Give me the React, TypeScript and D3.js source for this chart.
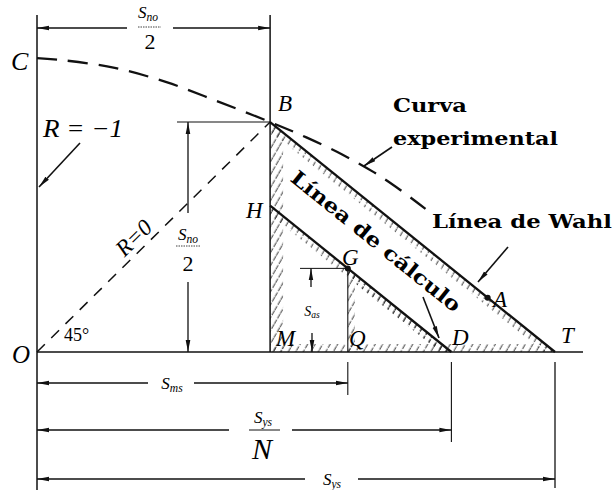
import React from "react";
import * as d3 from "d3";

const W = 614;
const H = 490;

// abscissa values (S_ys = 100) and ordinate of B (S_no/2)
const snoHalf = 45; // B, M
const sms = 60; // Q (G above it)
const sysOverN = 80; // D
const sys = 100; // T
const aOnWahl = 87; // A on the Wahl line

const curveX = [0, 5, 15, 25, 35, 45, 52, 59, 65, 70, 75];
const curveY = [57.5, 57.1, 55.6, 52.8, 49, 45, 42, 38.6, 35.2, 31.8, 28];

const serif = "'Liberation Serif', 'DejaVu Serif', serif";
const bold = "'DejaVu Serif', serif";

const x = d3.scaleLinear().domain([0, 100]).range([37, 555]);
const y = d3.scaleLinear().domain([0, 100]).range([352, 352 - 511]);

// line through B and T, and the parallel one through D
const wahlY = (v: number) => (snoHalf * (sys - v)) / (sys - snoHalf);
const calcY = (v: number) => (snoHalf * (sysOverN - v)) / (sys - snoHalf);

const S = ({ cx, cy, sub, size = 17 }: { cx: number; cy: number; sub: string; size?: number }) => (
  <text x={cx} y={cy} textAnchor="middle" fontFamily={serif} fontStyle="italic" fontSize={size}>
    S<tspan fontSize={size * 0.68} dy={size * 0.15}>{sub}</tspan>
  </text>
);

const Letter = ({ px, py, t, size = 23 }: { px: number; py: number; t: string; size?: number }) => (
  <text x={px} y={py} fontFamily={serif} fontStyle="italic" fontSize={size}>
    {t}
  </text>
);

type P = [number, number];

export default function App() {
  const line = d3.line<P>().x((d) => x(d[0])).y((d) => y(d[1]));
  const curvePts = curveX.map((v, i) => [v, curveY[i]] as P);
  const curvePath = d3
    .line<P>()
    .x((d) => x(d[0]))
    .y((d) => y(d[1]))
    .curve(d3.curveCatmullRom)(curvePts);

  const B: P = [snoHalf, snoHalf];
  const M: P = [snoHalf, 0];
  const T: P = [sys, 0];
  const D: P = [sysOverN, 0];
  const Hp: P = [snoHalf, calcY(snoHalf)];
  const G: P = [sms, calcY(sms)];
  const Q: P = [sms, 0];
  const A: P = [aOnWahl, wahlY(aOnWahl)];

  const tri1 = line([B, M, T, B])!;
  const tri2 = line([Hp, M, D, Hp])!;
  const tri3 = line([G, Q, D, G])!;

  const ang = (Math.atan2(y(0) - y(snoHalf), x(sys) - x(snoHalf)) * 180) / Math.PI;
  const ang45 = (Math.atan2(y(snoHalf) - y(0), x(snoHalf) - x(0)) * 180) / Math.PI;

  const x0 = x(0);
  const y0 = y(0);
  const xB = x(snoHalf);
  const yB = y(snoHalf);

  const seg = (x1: number, y1: number, x2: number, y2: number, arrow = true, w = 1.3) => (
    <line
      x1={x1}
      y1={y1}
      x2={x2}
      y2={y2}
      stroke="#111"
      strokeWidth={w}
      markerEnd={arrow ? "url(#arr)" : undefined}
    />
  );

  // horizontal dimension line with a gap for its label
  const dimH = (xa: number, xb: number, yy: number, g1: number, g2: number) => (
    <g>
      {seg(g1, yy, xa, yy)}
      {seg(g2, yy, xb, yy)}
    </g>
  );

  // hatch band along one edge, kept inside a region
  const band = (a: P, b: P, w: number, clip: string) => (
    <path d={line([a, b])!} stroke="url(#hatch)" strokeWidth={w} fill="none" clipPath={`url(#${clip})`} />
  );

  return (
    <svg width={W} height={H} style={{ position: "absolute", left: 0, top: 0, background: "#fff" }}>
      <defs>
        <marker
          id="arr"
          viewBox="0 -3 12 6"
          refX={12}
          refY={0}
          markerWidth={12}
          markerHeight={6}
          markerUnits="userSpaceOnUse"
          orient="auto"
        >
          <path d="M0,-2.3L12,0L0,2.3Z" fill="#111" />
        </marker>
        <pattern id="hatch" width={6.5} height={12} patternUnits="userSpaceOnUse" patternTransform="rotate(30)">
          <line x1={3} y1={0} x2={3} y2={12} stroke="#222" strokeWidth={0.9} strokeDasharray="5 1.5" />
        </pattern>
        <clipPath id="c1">
          <path d={tri1} />
        </clipPath>
        <clipPath id="c2">
          <path d={tri2} />
        </clipPath>
        <clipPath id="c3">
          <path d={tri3} />
        </clipPath>
      </defs>

      {/* hatching along the inside edges */}
      {band(B, M, 26, "c1")}
      {band(B, T, 14, "c1")}
      {band(M, T, 16, "c1")}
      {band(Hp, D, 14, "c2")}
      {band(G, Q, 14, "c3")}
      {band(G, D, 14, "c3")}

      {/* axes and extension lines */}
      {seg(x0, 15, x0, 490, false, 1.5)}
      {seg(x0, y0, 583, y0, false, 1.6)}
      {seg(xB, 15, xB, y0, false, 1.5)}
      {seg(x(sms), y(G[1]), x(sms), y0, false, 1.1)}
      {seg(x(sms), 362, x(sms), 395, false, 1.1)}
      {seg(x(sysOverN), 362, x(sysOverN), 442, false, 1.1)}
      {seg(x(sys), 362, x(sys), 488, false, 1.3)}

      {/* Wahl line and design line */}
      <path d={line([B, T])!} stroke="#111" strokeWidth={2.3} fill="none" />
      <path d={line([Hp, D])!} stroke="#111" strokeWidth={2.3} fill="none" />

      {/* R = 0 line and experimental curve */}
      <path d={line([[0, 0], B])!} stroke="#111" strokeWidth={1.5} strokeDasharray="11 9" fill="none" />
      <path d={curvePath!} stroke="#111" strokeWidth={2.3} strokeDasharray="20 11" fill="none" />

      {/* top dimension S_no/2 */}
      {dimH(x0, xB, 28, 127, 173)}
      <S cx={148} cy={18} sub="no" />
      <line x1={138} x2={161} y1={27} y2={27} stroke="#111" strokeWidth={0.8} strokeDasharray="1.5 1" />
      <text x={150} y={49} textAnchor="middle" fontFamily={serif} fontSize={22}>
        2
      </text>

      {/* vertical dimension S_no/2 */}
      {seg(xB, yB, 177, yB, false, 1.1)}
      {seg(188, 213, 188, yB)}
      {seg(188, 282, 188, y0)}
      <S cx={188} cy={240} sub="no" />
      <line x1={176} x2={201} y1={246} y2={246} stroke="#111" strokeWidth={0.8} strokeDasharray="1.5 1" />
      <text x={188} y={271} textAnchor="middle" fontFamily={serif} fontSize={22}>
        2
      </text>

      {/* S_as dimension */}
      {seg(300, y(G[1]), x(sms), y(G[1]), false, 1)}
      {seg(311, 287, 311, y(G[1]))}
      {seg(312, 333, 312, y0)}
      <S cx={312} cy={316} sub="as" size={14} />

      {/* bottom dimensions */}
      {dimH(x0, x(sms), 383, 148, 194)}
      <S cx={172} cy={389} sub="ms" />
      {dimH(x0, x(sysOverN), 430, 229, 292)}
      <S cx={263} cy={423} sub="ys" />
      <line x1={249} x2={280} y1={430} y2={430} stroke="#111" strokeWidth={1} />
      <text x={262} y={459} textAnchor="middle" fontFamily={serif} fontStyle="italic" fontSize={30}>
        N
      </text>
      {dimH(x0, x(sys), 479, 305, 358)}
      <S cx={332} cy={485} sub="ys" />

      {/* points */}
      <circle cx={x(G[0])} cy={y(G[1])} r={3} fill="#111" />
      <circle cx={x(A[0])} cy={y(A[1])} r={3} fill="#111" />

      {/* leaders */}
      {seg(80, 143, 39, 187, true, 1.6)}
      {seg(392, 147, 364, 166, true, 1.6)}
      {seg(508, 247, 478, 282, true, 1.6)}
      {seg(423, 297, 439, 338, true, 1.6)}

      {/* point letters */}
      <Letter px={11} py={70} t="C" size={26} />
      <Letter px={278} py={111} t="B" />
      <Letter px={246} py={218} t="H" />
      <Letter px={342} py={265} t="G" />
      <Letter px={493} py={307} t="A" />
      <Letter px={276} py={346} t="M" />
      <Letter px={349} py={346} t="Q" />
      <Letter px={452} py={345} t="D" />
      <Letter px={561} py={343} t="T" />
      <Letter px={12} py={363} t="O" size={25} />
      <text x={64} y={341} fontFamily={serif} fontSize={18}>
        45°
      </text>

      <text x={43} y={137} fontFamily={serif} fontStyle="italic" fontSize={25} textLength={80} lengthAdjust="spacingAndGlyphs">
        R = −1
      </text>
      <text
        transform={`translate(${x(20.5) - 4},${y(20.5) - 4}) rotate(${ang45})`}
        textAnchor="middle"
        fontFamily={serif}
        fontStyle="italic"
        fontSize={23}
      >
        R=0
      </text>

      {/* bold labels */}
      <text x={393} y={112} fontFamily={bold} fontWeight="bold" fontSize={18} textLength={74} lengthAdjust="spacingAndGlyphs">
        Curva
      </text>
      <text x={393} y={145} fontFamily={bold} fontWeight="bold" fontSize={18} textLength={165} lengthAdjust="spacingAndGlyphs">
        experimental
      </text>
      <text x={432} y={228} fontFamily={bold} fontWeight="bold" fontSize={18} textLength={180} lengthAdjust="spacingAndGlyphs">
        Línea de Wahl
      </text>
      <text
        transform={`translate(${x(64.6)},${y(20.6)}) rotate(${ang})`}
        textAnchor="middle"
        fontFamily={bold}
        fontWeight="bold"
        fontSize={20}
        textLength={212}
        lengthAdjust="spacingAndGlyphs"
      >
        Línea de cálculo
      </text>
    </svg>
  );
}
